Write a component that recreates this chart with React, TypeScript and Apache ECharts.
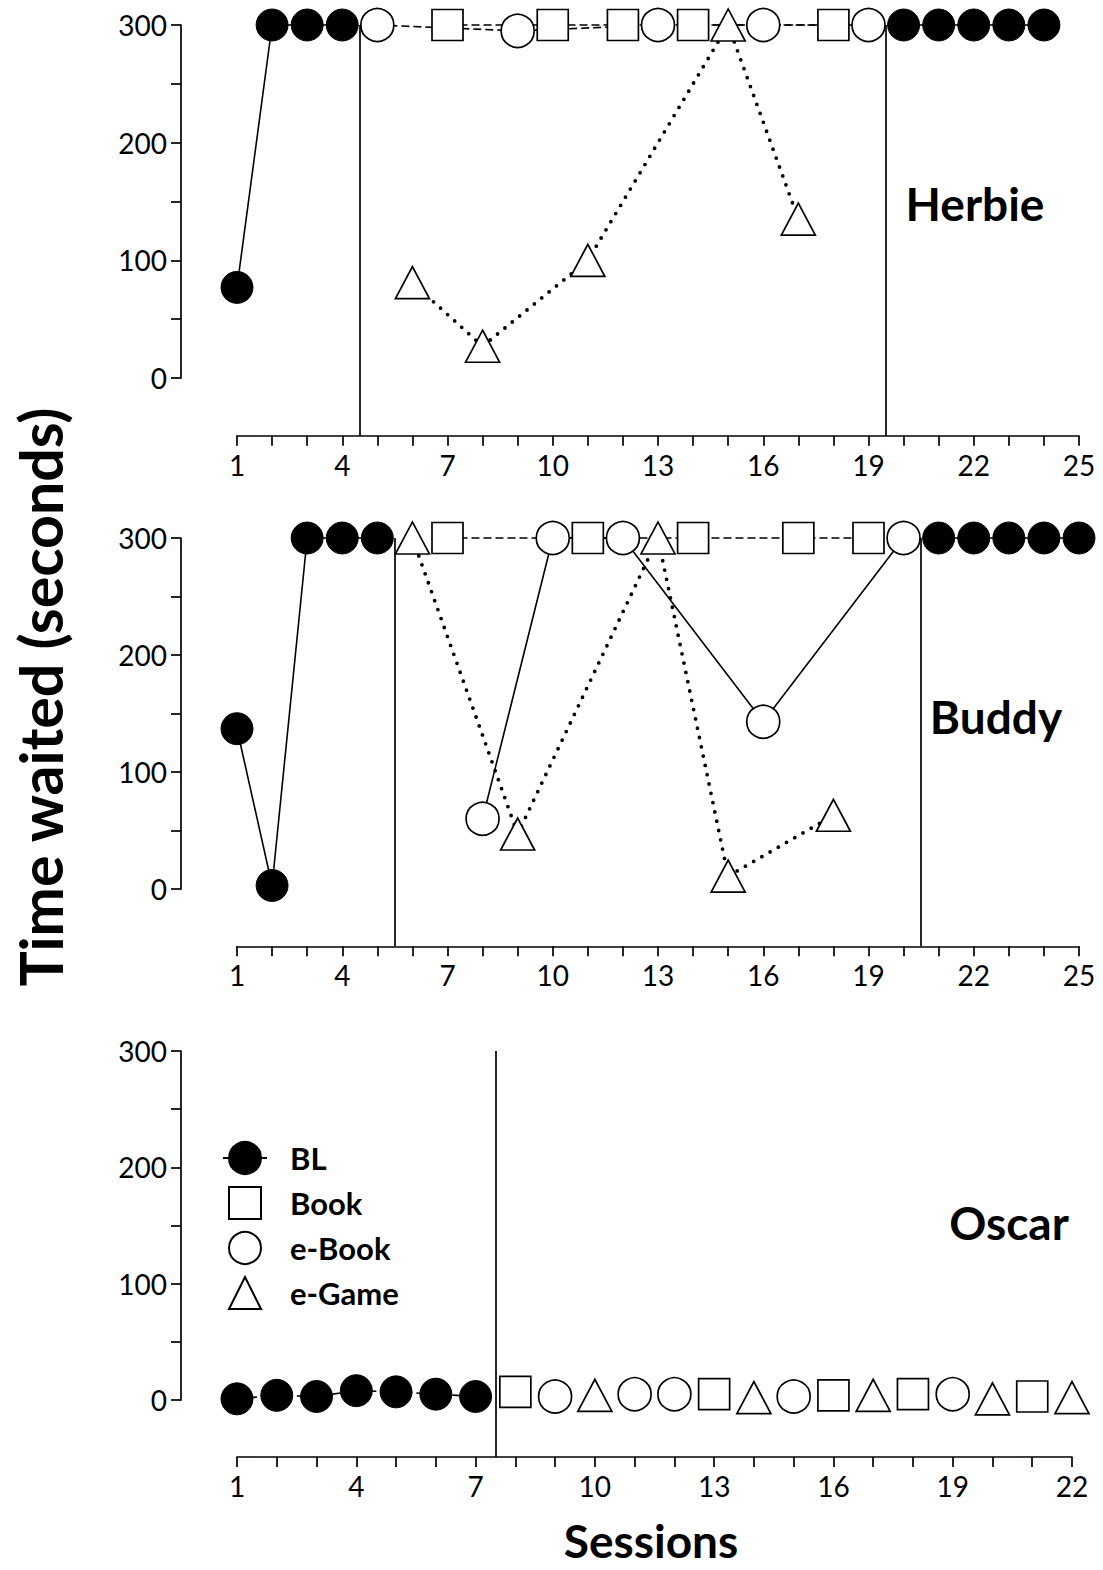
import React, { useEffect, useRef } from "react";
import * as echarts from "echarts";

const W = 1103;
const H = 1570;
const Y_MIN = -49;
const FONT = "Lato";

// ---------- Herbie ----------
const herbieBL1 = [[1, 77], [2, 300], [3, 300], [4, 300]];
const herbieBL2 = [[20, 300], [21, 300], [22, 300], [23, 300], [24, 300]];
const herbieBook = [[7, 300], [10, 300], [12, 300], [14, 300], [18, 300]];
const herbieEBook = [[5, 300], [9, 295], [13, 300], [16, 300], [19, 300]];
const herbieEGame = [[6, 81], [8, 27], [11, 100], [15, 300], [17, 135]];
const herbiePhases = [4.5, 19.5];

// ---------- Buddy ----------
const buddyBL1 = [[1, 137], [2, 3], [3, 300], [4, 300], [5, 300]];
const buddyBL2 = [[21, 300], [22, 300], [23, 300], [24, 300], [25, 300]];
const buddyBook = [[7, 300], [11, 300], [14, 300], [17, 300], [19, 300]];
const buddyEBook = [[8, 60], [10, 300], [12, 300], [16, 143], [20, 300]];
const buddyEGame = [[6, 300], [9, 47], [13, 300], [15, 11], [18, 63]];
const buddyPhases = [5.5, 20.5];

// ---------- Oscar ----------
const oscarBL = [[1, 1], [2, 4], [3, 3], [4, 8], [5, 7], [6, 5], [7, 3]];
const oscarBook = [[8, 7], [13, 5], [16, 4], [18, 5], [21, 3]];
const oscarEBook = [[9, 3], [11, 5], [12, 5], [15, 3], [19, 5]];
const oscarEGame = [[10, 4], [14, 2], [17, 4], [20, 1], [22, 2]];
const oscarPhases = [7.5];

const legendNames = ["BL", "Book", "e-Book", "e-Game"];
const participantNames = ["Herbie", "Buddy", "Oscar"];
const yTitle = "Time waited (seconds)";
const xTitle = "Sessions";

const markers: Record<string, any> = {
  BL: { symbol: "circle", symbolSize: 32, itemStyle: { color: "#000", borderColor: "#000", borderWidth: 1 } },
  Book: { symbol: "rect", symbolSize: [31, 31], itemStyle: { color: "#fff", borderColor: "#000", borderWidth: 1.7 } },
  "e-Book": { symbol: "circle", symbolSize: 33, itemStyle: { color: "#fff", borderColor: "#000", borderWidth: 1.7 } },
  "e-Game": { symbol: "triangle", symbolSize: [34, 32], itemStyle: { color: "#fff", borderColor: "#000", borderWidth: 1.7 } },
};

const lines: Record<string, any> = {
  solid: { color: "#000", width: 1.6, type: "solid" },
  dashed: { color: "#000", width: 1.6, type: [8, 4] },
  dotted: { color: "#000", width: 3.8, type: [0, 9.5], cap: "round" },
  none: { color: "#000", width: 0, opacity: 0 },
};

const axisLineStyle = { color: "#000", width: 1.7 };
const labelStyle = { color: "#000", fontFamily: FONT, fontSize: 28 };

function buildOption() {
  const panels = [
    {
      top: 25, h: 353, xMax: 25, right: 1079, phases: herbiePhases,
      label: { x: 975, y: 203 },
      series: [
        { name: "e-Game", data: herbieEGame, line: "dotted" },
        { name: "e-Book", data: herbieEBook, line: "dashed" },
        { name: "Book", data: herbieBook, line: "dashed" },
        { name: "BL", data: herbieBL1, line: "solid", phase: true },
        { name: "BL", data: herbieBL2, line: "solid" },
      ],
    },
    {
      top: 538, h: 351, xMax: 25, right: 1079, phases: buddyPhases,
      label: { x: 996, y: 716 },
      series: [
        { name: "e-Game", data: buddyEGame, line: "dotted" },
        { name: "e-Book", data: buddyEBook, line: "solid" },
        { name: "Book", data: buddyBook, line: "dashed" },
        { name: "BL", data: buddyBL1, line: "solid", phase: true },
        { name: "BL", data: buddyBL2, line: "solid" },
      ],
    },
    {
      top: 1051, h: 349, xMax: 22, right: 1072, phases: oscarPhases,
      label: { x: 1009, y: 1222 },
      series: [
        { name: "BL", data: oscarBL, line: "dashed", phase: true },
        { name: "Book", data: oscarBook, line: "none" },
        { name: "e-Book", data: oscarEBook, line: "none" },
        { name: "e-Game", data: oscarEGame, line: "none" },
      ],
    },
  ];

  const grid: any[] = [];
  const xAxis: any[] = [];
  const yAxis: any[] = [];
  const oscarSeries: any[] = [];
  const otherSeries: any[] = [];

  panels.forEach((p, i) => {
    const dataGrid = 2 * i;
    const axisGrid = 2 * i + 1;
    grid.push({ left: 237, top: p.top, width: p.right - 237, height: (p.h * (300 - Y_MIN)) / 300 });
    grid.push({ left: 181, top: p.top, width: 1, height: p.h });

    xAxis.push({
      gridIndex: dataGrid,
      type: "value",
      min: 1,
      max: p.xMax,
      interval: 1,
      axisLine: { show: true, onZero: false, lineStyle: axisLineStyle },
      axisTick: { show: true, length: 10, lineStyle: axisLineStyle },
      axisLabel: {
        ...labelStyle,
        margin: 15,
        formatter: (v: number) => ((v - 1) % 3 === 0 ? String(v) : ""),
      },
      splitLine: { show: false },
    });
    xAxis.push({ gridIndex: axisGrid, type: "value", show: false, min: 0, max: 1 });

    yAxis.push({ gridIndex: dataGrid, type: "value", show: false, min: Y_MIN, max: 300 });
    yAxis.push({
      gridIndex: axisGrid,
      type: "value",
      min: 0,
      max: 300,
      interval: 100,
      axisLine: { show: true, onZero: false, lineStyle: axisLineStyle },
      axisTick: { show: true, length: 10, lineStyle: axisLineStyle },
      minorTick: { show: true, splitNumber: 2, length: 10, lineStyle: axisLineStyle },
      axisLabel: { ...labelStyle, margin: 14 },
      splitLine: { show: false },
      minorSplitLine: { show: false },
    });

    p.series.forEach((s: any) => {
      const m = markers[s.name];
      const ser: any = {
        type: "line",
        name: s.name,
        xAxisIndex: dataGrid,
        yAxisIndex: dataGrid,
        data: s.data,
        symbol: m.symbol,
        symbolSize: m.symbolSize,
        itemStyle: m.itemStyle,
        lineStyle: lines[s.line],
        clip: false,
        silent: true,
        z: s.name === "BL" ? 4 : 3,
      };
      if (s.phase) {
        ser.markLine = {
          silent: true,
          symbol: ["none", "none"],
          label: { show: false },
          lineStyle: { color: "#000", width: 1.7, type: "solid" },
          data: p.phases.map((x: number) => [{ coord: [x, 300] }, { coord: [x, Y_MIN] }]),
        };
      }
      if (i === 2) oscarSeries.push(ser);
      else otherSeries.push(ser);
    });
  });

  const textStyle = (text: string, size: number) => ({
    text,
    fill: "#000",
    font: `bold ${size}px ${FONT}`,
    align: "center",
    verticalAlign: "middle",
    textAlign: "center",
    textVerticalAlign: "middle",
  });

  const graphic: any[] = [
    { type: "text", x: 40, y: 697, rotation: Math.PI / 2, style: textStyle(yTitle, 59) },
    { type: "text", x: 651, y: 1540, style: textStyle(xTitle, 46) },
  ];
  panels.forEach((p, i) => {
    graphic.push({ type: "text", x: p.label.x, y: p.label.y, style: textStyle(participantNames[i], 46) });
  });

  return {
    animation: false,
    backgroundColor: "#fff",
    grid,
    xAxis,
    yAxis,
    legend: {
      orient: "vertical",
      left: 217,
      top: 1136,
      itemWidth: 44,
      itemHeight: 40,
      itemGap: 11,
      selectedMode: false,
      data: legendNames,
      textStyle: { color: "#000", fontFamily: FONT, fontWeight: "bold", fontSize: 31, padding: [0, 0, 0, 18] },
    },
    series: [...oscarSeries, ...otherSeries],
    graphic,
  };
}

export default function App() {
  const ref = useRef<HTMLDivElement>(null);
  useEffect(() => {
    if (!ref.current) return;
    const chart = echarts.init(ref.current, null, { renderer: "svg", width: W, height: H });
    chart.setOption(buildOption() as any);
    return () => chart.dispose();
  }, []);
  return (
    <div
      ref={ref}
      style={{ position: "absolute", left: 0, top: 0, width: W, height: H, background: "#fff" }}
    />
  );
}
